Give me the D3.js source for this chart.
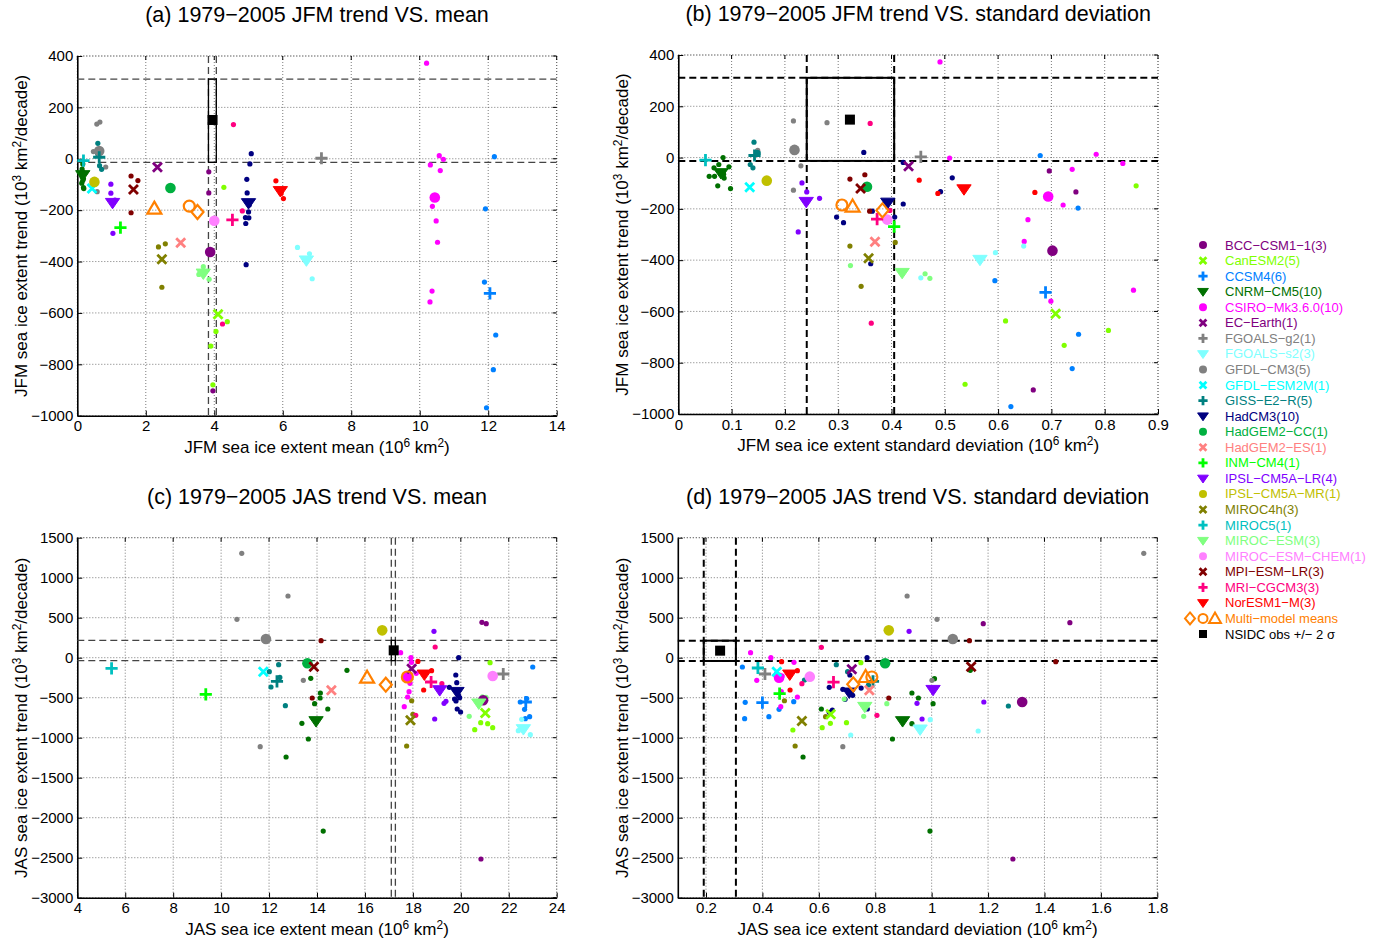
<!DOCTYPE html>
<html><head><meta charset="utf-8">
<script src="https://cdn.jsdelivr.net/npm/d3@7"></script>
<style>body{margin:0;background:#fff} text{font-family:"Liberation Sans",Arial,Helvetica,sans-serif}</style>
</head><body><svg id="chart" width="1379" height="942"></svg>
<script>
// ---------------- DATA ----------------
const modelNames = ["BCC−CSM1−1(3)","CanESM2(5)","CCSM4(6)","CNRM−CM5(10)","CSIRO−Mk3.6.0(10)","EC−Earth(1)","FGOALS−g2(1)","FGOALS−s2(3)","GFDL−CM3(5)","GFDL−ESM2M(1)","GISS−E2−R(5)","HadCM3(10)","HadGEM2−CC(1)","HadGEM2−ES(1)","INM−CM4(1)","IPSL−CM5A−LR(4)","IPSL−CM5A−MR(1)","MIROC4h(3)","MIROC5(1)","MIROC−ESM(3)","MIROC−ESM−CHEM(1)","MPI−ESM−LR(3)","MRI−CGCM3(3)","NorESM1−M(3)"];
const modelColors = ["#800080","#80FF00","#0080FF","#007000","#FF00FF","#800080","#808080","#80FFFF","#808080","#00FFFF","#008080","#000080","#00B040","#FF8080","#00FF00","#8000FF","#C0C000","#808000","#00C0C0","#80FF80","#FF80FF","#800000","#FF0080","#FF0000"];
const modelShapes = ["circle","x","plus","tri","circle","x","plus","tri","circle","x","plus","tri","circle","x","plus","tri","circle","x","plus","tri","circle","x","plus","tri"];

// Model means per panel: [x, trend]
const meansA = [[3.88,-363],[4.11,-605],[12.05,-524],[0.16,-63],[10.44,-151],[2.34,-33],[7.13,2],[6.69,-395],[0.64,30],[0.43,-116],[0.64,6],[5.0,-172],[2.72,-114],[3.02,-327],[1.26,-268],[1.03,-171],[0.5,-90],[2.47,-391],[0.18,-7],[3.68,-446],[4.0,-241],[1.64,-120],[4.53,-238],[5.93,-125]];
const meansB = [[0.702,-363],[0.708,-609],[0.689,-526],[0.080,-60],[0.694,-152],[0.432,-34],[0.455,3],[0.566,-398],[0.218,30],[0.134,-116],[0.143,8],[0.393,-175],[0.354,-114],[0.369,-328],[0.405,-269],[0.240,-172],[0.166,-90],[0.357,-393],[0.051,-10],[0.42,-449],[0.392,-242],[0.342,-121],[0.373,-240],[0.536,-123]];
const meansC = [[20.93,-532],[21.02,-691],[22.71,-554],[13.96,-791],[17.77,-241],[17.95,-137],[21.77,-204],[22.61,-891],[11.87,234],[11.76,-175],[12.33,-295],[19.84,-425],[13.6,-70],[14.6,-408],[9.36,-458],[19.12,-404],[16.72,342],[17.9,-783],[5.43,-133],[20.75,-570],[21.33,-229],[13.87,-112],[18.76,-304],[18.48,-208]];
const meansD = [[1.321,-554],[0.642,-708],[0.40,-562],[0.897,-791],[0.459,-250],[0.717,-145],[0.409,-204],[0.959,-895],[1.075,234],[0.451,-175],[0.792,-295],[0.708,-433],[0.835,-70],[0.779,-408],[0.461,-450],[1.005,-400],[0.848,342],[0.54,-791],[0.384,-129],[0.763,-612],[0.568,-237],[1.14,-112],[0.652,-305],[0.497,-208]];

// Ensemble members per panel: [modelIndex, x, trend]
const membersA = [
[0,3.84,-51],[0,3.84,-133],[0,3.96,-903],
[1,4.28,-111],[1,4.38,-634],[1,4.05,-672],[1,3.9,-729],[1,3.96,-880],
[2,12.18,8],[2,11.92,-195],[2,11.89,-480],[2,12.22,-686],[2,12.15,-821],[2,11.95,-969],
[3,0.16,-20],[3,0.14,-40],[3,0.18,-112],[3,0.19,-116],[3,0.15,-50],[3,0.17,-58],[3,0.14,-70],[3,0.18,-78],[3,0.16,-85],[3,0.13,-95],
[4,10.2,372],[4,10.57,12],[4,10.69,-2],[4,10.31,-24],[4,10.6,-46],[4,10.37,-185],[4,10.48,-242],[4,10.52,-325],[4,10.36,-515],[4,10.3,-557],
[7,6.43,-345],[7,6.78,-370],[7,6.86,-467],
[8,0.57,135],[8,0.66,143],[8,0.47,28],[8,0.83,-32],[8,0.58,-128],
[10,0.6,60],[10,0.65,-27],[10,0.71,-41],[10,0.62,20],[10,0.6,18],
[11,5.08,20],[11,5.04,-20],[11,4.95,-80],[11,4.96,-133],[11,5.0,-207],[11,4.91,-229],[11,5.01,-230],[11,4.92,-252],[11,4.93,-412],[11,5.02,-180],
[15,0.98,-99],[15,0.98,-134],[15,1.04,-290],[15,1.1,-161],
[17,2.37,-343],[17,2.57,-331],[17,2.47,-500],
[19,3.68,-420],[19,3.55,-450],[19,3.85,-469],
[21,1.57,-67],[21,1.77,-85],[21,1.57,-210],
[22,4.56,133],[22,4.82,-203],[22,4.24,-643],
[23,5.8,-86],[23,5.95,-135],[23,6.02,-155]];
const membersB = [
[0,0.696,-52],[0,0.746,-134],[0,0.666,-906],
[1,0.859,-110],[1,0.614,-637],[1,0.807,-674],[1,0.724,-732],[1,0.538,-884],
[2,0.679,8],[2,0.75,-197],[2,0.594,-480],[2,0.751,-689],[2,0.739,-823],[2,0.624,-971],
[3,0.084,0],[3,0.076,-27],[3,0.067,-40],[3,0.095,-36],[3,0.058,-73],[3,0.068,-73],[3,0.086,-80],[3,0.074,-110],[3,0.098,-121],[3,0.085,-65],
[4,0.491,373],[4,0.509,-2],[4,0.784,13],[4,0.834,-23],[4,0.739,-46],[4,0.722,-185],[4,0.656,-242],[4,0.649,-327],[4,0.699,-560],[4,0.854,-517],
[7,0.595,-371],[7,0.648,-345],[7,0.455,-469],
[8,0.216,143],[8,0.279,136],[8,0.149,28],[8,0.23,-32],[8,0.216,-127],
[10,0.142,60],[10,0.135,-27],[10,0.140,-40],[10,0.148,20],[10,0.15,18],
[11,0.348,20],[11,0.297,-232],[11,0.310,-254],[11,0.361,-414],[11,0.364,-209],[11,0.422,-19],[11,0.422,-181],[11,0.492,-133],[11,0.514,-79],[11,0.406,-232],
[15,0.232,-99],[15,0.241,-134],[15,0.265,-159],[15,0.225,-290],
[17,0.322,-345],[17,0.343,-502],[17,0.407,-331],
[19,0.323,-421],[19,0.463,-453],[19,0.472,-471],
[21,0.322,-84],[21,0.35,-67],[21,0.359,-209],
[22,0.360,133],[22,0.397,-206],[22,0.362,-646],
[23,0.452,-88],[23,0.487,-140],[23,0.669,-136]];
const membersC = [
[0,20.88,442],[0,21.06,425],[0,20.84,-2516],
[1,21.22,-62],[1,20.83,-812],[1,21.12,-825],[1,20.58,-900],[1,21.33,-875],
[2,23.0,-116],[2,22.48,-554],[2,22.66,-645],[2,22.87,-737],[2,22.69,-762],[2,22.75,-510],
[3,13.74,-258],[3,13.9,-575],[3,13.37,-820],[3,13.64,-1016],[3,12.71,-1241],[3,14.14,-441],[3,14.13,-504],[3,14.45,-641],[3,15.25,-158],[3,14.26,-2167],
[4,17.49,63],[4,17.92,0],[4,17.94,-58],[4,18.14,-195],[4,17.88,-320],[4,17.84,-425],[4,17.78,-491],[4,17.64,-612],[4,17.7,-230],[4,17.75,-250],
[7,22.54,-770],[7,22.4,-912],[7,22.9,-962],
[8,10.86,1305],[8,12.79,771],[8,10.66,480],[8,13.43,-283],[8,11.63,-1112],
[10,12.4,-87],[10,12.01,-175],[10,12.08,-366],[10,12.68,-600],[10,12.45,-247],
[11,19.91,0],[11,19.79,-216],[11,19.83,-312],[11,19.52,-370],[11,19.74,-516],[11,19.85,-641],[11,19.99,-679],[11,19.9,-470],[11,19.95,-500],[11,19.8,-540],
[15,18.88,330],[15,19.38,-545],[15,19.3,-570],[15,18.91,-766],
[17,17.95,-538],[17,17.74,-1104],[17,18.0,-707],
[19,20.9,-490],[19,21.05,-495],[19,20.35,-733],
[21,13.68,-58],[21,13.8,-504],[21,14.17,213],
[22,18.93,134],[22,19.21,-325],[22,18.12,-720],
[23,18.21,-46],[23,18.78,-162],[23,18.45,-404]];
const membersD = [
[0,1.183,425],[0,1.49,438],[0,1.288,-2516],
[1,0.749,-62],[1,0.698,-812],[1,0.641,-820],[1,0.508,-904],[1,0.612,-875],
[2,0.329,-116],[2,0.339,-558],[2,0.337,-762],[2,0.423,-737],[2,0.459,-645],[2,0.511,-550],
[3,0.609,-641],[3,0.544,-1241],[3,0.861,-1016],[3,0.93,-441],[3,0.953,-504],[3,1.01,-262],[3,1.005,-575],[3,0.93,-825],[3,1.137,-158],[3,0.994,-2167],
[4,0.358,63],[4,0.43,0],[4,0.512,-58],[4,0.38,-283],[4,0.467,-425],[4,0.524,-491],[4,0.465,-612],[4,0.45,-195],[4,0.47,-230],[4,0.46,-260],
[7,0.995,-775],[7,1.165,-916],[7,0.713,-966],
[8,1.752,1305],[8,0.913,771],[8,1.019,480],[8,1.001,-283],[8,0.685,-1112],
[10,0.662,-87],[10,0.702,-175],[10,0.776,-341],[10,1.272,-604],[10,0.549,-279],
[11,0.771,0],[11,0.71,-216],[11,0.637,-370],[11,0.685,-395],[11,0.648,-654],[11,0.637,-683],[11,0.693,-520],[11,0.772,-641],[11,0.72,-470],[11,0.75,-380],
[15,0.92,330],[15,0.948,-570],[15,0.966,-766],[15,1.185,-554],
[17,0.478,-538],[17,0.516,-1104],[17,0.624,-737],
[19,0.69,-516],[19,0.841,-575],[19,0.759,-733],
[21,1.134,213],[21,1.44,-50],[21,0.848,-504],
[22,0.609,130],[22,0.54,-325],[22,0.806,-720],
[23,0.468,-50],[23,0.524,-162],[23,0.498,-404]];

// Multi-model means: [diamond, circle, triangle] as [x, trend]
const multiA = [[3.51,-207],[3.27,-184],[2.25,-194]];
const multiB = [[0.383,-206],[0.307,-185],[0.327,-191]];
const multiC = [[16.87,-337],[17.77,-241],[16.09,-250]];
const multiD = [[0.722,-333],[0.788,-241],[0.766,-241]];
// NSIDC obs: [x, trend, xLow, xHigh, trendLow, trendHigh]
const obsA = [3.95,151,3.83,4.06,-14,310];
const obsB = [0.322,148,0.241,0.405,-13,311];
const obsC = [17.2,92,17.1,17.27,-37,217];
const obsD = [0.25,88,0.192,0.306,-41,213];

const ticksXA = [0,2,4,6,8,10,12,14];
const ticksXB = [0,0.1,0.2,0.3,0.4,0.5,0.6,0.7,0.8,0.9];
const ticksXC = [4,6,8,10,12,14,16,18,20,22,24];
const ticksXD = [0.2,0.4,0.6,0.8,1,1.2,1.4,1.6,1.8];
const ticksYJFM = [-1000,-800,-600,-400,-200,0,200,400];
const ticksYJAS = [-3000,-2500,-2000,-1500,-1000,-500,0,500,1000,1500];

const titles = ["(a) 1979−2005 JFM trend VS. mean","(b) 1979−2005 JFM trend VS. standard deviation","(c) 1979−2005 JAS trend VS. mean","(d) 1979−2005 JAS trend VS. standard deviation"];

// ---------------- DRAWING ----------------
const svg = d3.select("#chart");
const ORANGE = "#FF8000";
const fmt = v => (v < 0 ? "−" : "") + String(Math.abs(+v.toFixed(2)));

function marker(g, shape, x, y, s, color) {
  if (shape === "circle") {
    g.append("circle").attr("cx", x).attr("cy", y).attr("r", s).attr("fill", color);
  } else if (shape === "x") {
    const k = s * 0.85;
    g.append("path").attr("d", `M${x-k},${y-k}L${x+k},${y+k}M${x-k},${y+k}L${x+k},${y-k}`)
      .attr("stroke", color).attr("stroke-width", 2.8).attr("fill", "none");
  } else if (shape === "plus") {
    const k = s * 1.15;
    g.append("path").attr("d", `M${x-k},${y}L${x+k},${y}M${x},${y-k}L${x},${y+k}`)
      .attr("stroke", color).attr("stroke-width", 2.8).attr("fill", "none");
  } else if (shape === "tri") {
    const k = s * 1.35;
    g.append("path").attr("d", `M${x-k},${y-k*0.6}L${x+k},${y-k*0.6}L${x},${y+k*0.85}Z`)
      .attr("fill", color).attr("stroke", color).attr("stroke-width", 1);
  }
}

function textWithSup(sel, parts) {
  parts.forEach(p => {
    if (p[1]) sel.append("tspan").attr("dy", -6).attr("font-size", "0.7em").text(p[0]);
    else sel.append("tspan").attr("dy", p[2] || 0).text(p[0]);
  });
}

function panel(cfg) {
  const x = d3.scaleLinear().domain(cfg.xDomain).range([cfg.left, cfg.right]);
  const y = d3.scaleLinear().domain(cfg.yDomain).range([cfg.bottom, cfg.top]);
  const g = svg.append("g");

  // grid
  const grid = g.append("g").attr("stroke", "#222").attr("stroke-width", 0.8)
    .attr("stroke-dasharray", "1,2").attr("opacity", 0.75);
  cfg.xTicks.forEach(t => grid.append("line").attr("x1", x(t)).attr("x2", x(t)).attr("y1", cfg.top).attr("y2", cfg.bottom));
  cfg.yTicks.forEach(t => grid.append("line").attr("x1", cfg.left).attr("x2", cfg.right).attr("y1", y(t)).attr("y2", y(t)));
  grid.append("line").attr("x1", cfg.right).attr("x2", cfg.right).attr("y1", cfg.top).attr("y2", cfg.bottom);
  grid.append("line").attr("x1", cfg.left).attr("x2", cfg.right).attr("y1", cfg.top).attr("y2", cfg.top);
  // small ticks on top and right
  const tk = g.append("g").attr("stroke", "#000").attr("stroke-width", 1);
  cfg.xTicks.forEach(t => tk.append("line").attr("x1", x(t)).attr("x2", x(t)).attr("y1", cfg.top).attr("y2", cfg.top + 4));
  cfg.yTicks.forEach(t => tk.append("line").attr("x1", cfg.right).attr("x2", cfg.right - 4).attr("y1", y(t)).attr("y2", y(t)));

  // axes
  const ax = g.append("g").attr("transform", `translate(0,${cfg.bottom})`)
    .call(d3.axisBottom(x).tickValues(cfg.xTicks).tickFormat(fmt).tickSize(-5).tickSizeOuter(0).tickPadding(5));
  const ay = g.append("g").attr("transform", `translate(${cfg.left},0)`)
    .call(d3.axisLeft(y).tickValues(cfg.yTicks).tickFormat(fmt).tickSize(-5).tickSizeOuter(0).tickPadding(4));
  [ax, ay].forEach(a => {
    a.select(".domain").attr("stroke", "#000").attr("stroke-width", 1.6);
    a.selectAll(".tick line").attr("stroke", "#000");
    a.selectAll("text").attr("font-size", 15).attr("font-family", "Liberation Sans, Arial, sans-serif").attr("fill", "#000");
  });

  // obs box lines
  const o = cfg.obs;
  const ob = g.append("g").attr("stroke", cfg.obsColor).attr("fill", "none");
  const dash = ob.append("g").attr("stroke-dasharray", "7,4").attr("stroke-width", cfg.obsWidth);
  [o[2], o[3]].forEach(v => dash.append("line").attr("x1", x(v)).attr("x2", x(v)).attr("y1", cfg.top).attr("y2", cfg.bottom));
  [o[4], o[5]].forEach(v => dash.append("line").attr("x1", cfg.left).attr("x2", cfg.right).attr("y1", y(v)).attr("y2", y(v)));
  ob.append("rect").attr("x", x(o[2])).attr("y", y(o[5])).attr("width", x(o[3]) - x(o[2])).attr("height", y(o[4]) - y(o[5]))
    .attr("stroke", "#000").attr("stroke-width", cfg.obsWidth);

  // members
  const mg = g.append("g");
  cfg.members.forEach(m => mg.append("circle").attr("cx", x(m[1])).attr("cy", y(m[2])).attr("r", 2.6).attr("fill", modelColors[m[0]]));
  // means
  const mm = g.append("g");
  cfg.means.forEach((m, i) => marker(mm, modelShapes[i], x(m[0]), y(m[1]), 5.3, modelColors[i]));
  // multi-model means
  const mu = g.append("g").attr("fill", "none").attr("stroke", ORANGE).attr("stroke-width", 2.2);
  const [dm, cm, tm] = cfg.multi;
  let px = x(dm[0]), py = y(dm[1]);
  mu.append("path").attr("d", `M${px},${py-7}L${px+6},${py}L${px},${py+7}L${px-6},${py}Z`);
  mu.append("circle").attr("cx", x(cm[0])).attr("cy", y(cm[1])).attr("r", 5.5);
  px = x(tm[0]); py = y(tm[1]);
  mu.append("path").attr("d", `M${px},${py-7}L${px+7},${py+5}L${px-7},${py+5}Z`);
  // obs square
  g.append("rect").attr("x", x(o[0]) - 5).attr("y", y(o[1]) - 5).attr("width", 10).attr("height", 10).attr("fill", "#000");

  // titles and labels
  const cx = (cfg.left + cfg.right) / 2;
  g.append("text").attr("x", cx).attr("y", cfg.top - 34).attr("text-anchor", "middle").attr("font-size", 21.5).text(cfg.title);
  const xl = g.append("text").attr("x", cx).attr("y", cfg.bottom + 37).attr("text-anchor", "middle").attr("font-size", 17);
  textWithSup(xl, [[cfg.xLabel + " (10"], ["6", true], [" km", false, 6], ["2", true], [")", false, 6]]);
  const yl = g.append("text").attr("transform", `translate(${cfg.left - 50},${(cfg.top + cfg.bottom) / 2}) rotate(-90)`)
    .attr("text-anchor", "middle").attr("font-size", 17);
  textWithSup(yl, [[cfg.yLabel + " (10"], ["3", true], [" km", false, 6], ["2", true], ["/decade)", false, 6]]);
}

panel({left:77.3,right:556.7,top:56,bottom:415.7,xDomain:[0,14],yDomain:[-1000,400],xTicks:ticksXA,yTicks:ticksYJFM,
  means:meansA,members:membersA,multi:multiA,obs:obsA,obsColor:"#444",obsWidth:1.3,title:titles[0],
  xLabel:"JFM sea ice extent mean",yLabel:"JFM sea ice extent trend"});
panel({left:678.3,right:1158,top:55,bottom:414,xDomain:[0,0.9],yDomain:[-1000,400],xTicks:ticksXB,yTicks:ticksYJFM,
  means:meansB,members:membersB,multi:multiB,obs:obsB,obsColor:"#000",obsWidth:2,title:titles[1],
  xLabel:"JFM sea ice extent standard deviation",yLabel:"JFM sea ice extent trend"});
panel({left:77.3,right:556.7,top:537.7,bottom:897.7,xDomain:[4,24],yDomain:[-3000,1500],xTicks:ticksXC,yTicks:ticksYJAS,
  means:meansC,members:membersC,multi:multiC,obs:obsC,obsColor:"#444",obsWidth:1.3,title:titles[2],
  xLabel:"JAS sea ice extent mean",yLabel:"JAS sea ice extent trend"});
panel({left:677.8,right:1157.3,top:537.7,bottom:897.7,xDomain:[0.1,1.8],yDomain:[-3000,1500],xTicks:ticksXD,yTicks:ticksYJAS,
  means:meansD,members:membersD,multi:multiD,obs:obsD,obsColor:"#000",obsWidth:2,title:titles[3],
  xLabel:"JAS sea ice extent standard deviation",yLabel:"JAS sea ice extent trend"});

// legend
const lg = svg.append("g");
const ly0 = 245, ldy = 15.56;
modelNames.forEach((n, i) => {
  const yy = ly0 + i * ldy;
  marker(lg, modelShapes[i], 1203, yy, 4, modelColors[i]);
  lg.append("text").attr("x", 1225).attr("y", yy + 4.5).attr("font-size", 13).attr("fill", modelColors[i]).text(n);
});
{
  const yy = ly0 + 24 * ldy;
  const mu = lg.append("g").attr("fill", "none").attr("stroke", ORANGE).attr("stroke-width", 2);
  mu.append("path").attr("d", `M1190,${yy-6}L1195,${yy}L1190,${yy+6}L1185,${yy}Z`);
  mu.append("circle").attr("cx", 1203).attr("cy", yy).attr("r", 4.5);
  mu.append("path").attr("d", `M1215,${yy-6}L1221,${yy+4.5}L1209,${yy+4.5}Z`);
  lg.append("text").attr("x", 1225).attr("y", yy + 4.5).attr("font-size", 13).attr("fill", ORANGE).text("Multi−model means");
  const y2 = ly0 + 25 * ldy;
  lg.append("rect").attr("x", 1199).attr("y", y2 - 4).attr("width", 8).attr("height", 8).attr("fill", "#000");
  lg.append("text").attr("x", 1225).attr("y", y2 + 4.5).attr("font-size", 13).attr("fill", "#000").text("NSIDC obs +/− 2 σ");
}
</script></body></html>
